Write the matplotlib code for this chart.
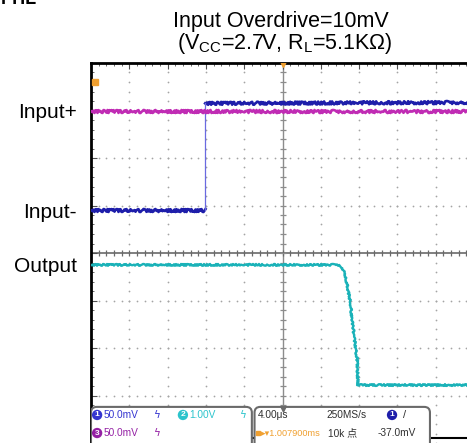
import numpy as np
import matplotlib.pyplot as plt
from matplotlib.patches import FancyBboxPatch

plt.rcParams['font.family'] = ['Liberation Sans', 'DejaVu Sans', 'Noto Sans CJK SC']
plt.rcParams['mathtext.fontset'] = 'custom'
plt.rcParams['mathtext.rm'] = 'Liberation Sans'

# scope traces in screen divisions (10 x 8 graticule)
in_minus_t = [0.0, 2.98, 2.98, 10.2]
in_minus_v = [4.90, 4.90, 7.15, 7.17]
in_plus_t = [0.0, 10.2]
in_plus_v = [7.00, 7.00]
out_t = [0.0, 6.45, 6.55, 6.63, 6.76, 6.84, 6.95, 6.97, 10.2]
out_v = [3.75, 3.75, 3.70, 3.58, 3.01, 2.44, 1.75, 1.22, 1.22]

trace_labels = ['Input+', 'Input-', 'Output']
label_levels = [in_plus_v[0], in_minus_v[0], out_v[0]]

# readout panel
ch_nums = ['1', '2', '3']
ch_scales = ['50.0mV', '1.00V', '50.0mV']
timebase = '4.00\u03bcs'
sample_rate = '250MS/s'
trig_pos = '\u25b8\u25be1.007900ms'
rec_len = '10k \u70b9'
trig_level = '-37.0mV'

blue = '#1e1eaa'
magenta = '#c02cb4'
cyan = '#1ab2b8'
orange = '#f0a030'
ch_colors = ['#3434d0', '#2cc4cc', '#9420a4']

fig = plt.figure(figsize=(4.67, 4.43), dpi=100)
ax = fig.add_axes([91 / 467, 0, 383 / 467, 380 / 443])
ax.set_xlim(0, 10)
ax.set_ylim(0, 8)

# graticule dots
gx, gy = [], []
for x in range(1, 10):
    if x != 5:
        ys = np.arange(0, 8.01, 0.2)
        gx += [x] * len(ys)
        gy += list(ys)
for y in range(1, 8):
    if y != 4:
        xs = np.arange(0, 10.01, 0.2)
        gx += list(xs)
        gy += [y] * len(xs)
ax.scatter(gx, gy, s=1.6, color='#a4a4a4', lw=0, zorder=1)

# centre cross with minor marks
ax.axvline(5, color='#8c8c8c', lw=1, zorder=1)
ax.axhline(4, color='#6a6a6a', lw=1.2, zorder=1)
mx = np.arange(0, 10.01, 0.2)
my = np.arange(0, 8.01, 0.2)
ax.plot(mx, [4] * len(mx), ls='none', marker='|', ms=5, mew=0.9, color='#6a6a6a', zorder=1)
ax.plot([5] * len(my), my, ls='none', marker='_', ms=5, mew=0.9, color='#8c8c8c', zorder=1)

ax.set_xticks(range(0, 11))
ax.set_yticks(range(0, 9))
ax.set_xticks(mx, minor=True)
ax.set_yticks(my, minor=True)
ax.tick_params(which='both', direction='in', top=True, bottom=False, right=False,
               labelbottom=False, labelleft=False, color='#505050')
ax.tick_params(which='major', length=4)
ax.tick_params(which='minor', length=2.5)
for s in ['left', 'top']:
    ax.spines[s].set_linewidth(2)
ax.spines['right'].set_visible(False)
ax.spines['bottom'].set_visible(False)
ax.axhline(0.1, color='black', lw=1.5, zorder=4)

# traces
l1, = ax.plot(in_minus_t[:2], in_minus_v[:2], color=blue, lw=1.9, zorder=3)
l2, = ax.plot(in_minus_t[2:], in_minus_v[2:], color=blue, lw=1.9, zorder=3)
ax.plot(in_minus_t[1:3], in_minus_v[1:3], color='#6a6ae0', lw=0.9, zorder=3)
l3, = ax.plot(in_plus_t, in_plus_v, color=magenta, lw=1.9, zorder=3)
l4, = ax.plot(out_t, out_v, color=cyan, lw=1.7, zorder=3)
for ln in [l1, l2, l3]:
    ln.set_sketch_params(1.5, 1.2, 2.0)
l4.set_sketch_params(0.9, 1.2, 2.0)

# markers
ax.plot([0.1], [7.6], marker='s', ms=4, color=orange, zorder=4, clip_on=False)
ax.plot([5], [7.97], marker='v', ms=4, color=orange, zorder=4)

for lab, lev in zip(trace_labels, label_levels):
    ax.annotate(lab, xy=(0, lev), xytext=(-14, 0), textcoords='offset pixels',
                ha='right', va='center_baseline', fontsize=15, annotation_clip=False)

# readout boxes
for x0, w in [(0.0, 4.2), (4.27, 4.58)]:
    ax.add_patch(FancyBboxPatch((x0, -0.6), w, 1.36,
                                boxstyle='round,pad=0,rounding_size=0.15',
                                mutation_aspect=0.8, fc='white', ec='#6a6a6a',
                                lw=1.5, zorder=5))
ax.plot([5], [0.72], marker='v', ms=3.5, color='#6a6a6a', zorder=6)

panel_font = ['Liberation Sans', 'Noto Sans CJK SC']
fs = 7.3
badge = dict(ha='center', va='center', fontsize=6, color='white', fontweight='bold', zorder=6)
row_y = [0.59, 0.59, 0.21]
badge_x = [0.16, 2.4, 0.16]
for num, sc, c, bx, by in zip(ch_nums, ch_scales, ch_colors, badge_x, row_y):
    ax.text(bx, by, num, bbox=dict(boxstyle='circle,pad=0.2', fc=c, ec='none'), **badge)
    ax.text(bx + 0.16, by, sc, color=c, fontsize=fs, va='center', family=panel_font, zorder=6)
    ax.text(bx + 1.46, by, '\u03df', color=c, fontsize=7.5, va='center',
            family=['DejaVu Sans'], zorder=6)

ax.text(4.36, 0.59, timebase, fontsize=fs, va='center', color='#303030', family=panel_font, zorder=6)
ax.text(6.16, 0.59, sample_rate, fontsize=fs, va='center', color='#303030', family=panel_font, zorder=6)
ax.text(7.86, 0.59, ch_nums[0], bbox=dict(boxstyle='circle,pad=0.2', fc=blue, ec='none'), **badge)
ax.text(8.14, 0.59, '/', fontsize=8, va='center', color='#303030', zorder=6)
ax.plot([4.36], [0.21], marker='s', ms=3.5, color=orange, zorder=6, clip_on=False)
ax.text(4.45, 0.21, trig_pos, fontsize=6.6, va='center', color=orange,
        family=['Liberation Sans', 'DejaVu Sans'], zorder=6)
ax.text(6.2, 0.21, rec_len, fontsize=fs, va='center', color='#303030', family=panel_font, zorder=6)
ax.text(7.49, 0.21, trig_level, fontsize=fs, va='center', color='#303030', family=panel_font, zorder=6)

# titles
fig.text(37 / 467, 1 - 4 / 443, 'PHL', ha='right', va='baseline', fontsize=13, fontweight='bold')
fig.text(281 / 467, 1 - 21 / 443, 'Input Overdrive=10mV', ha='center', va='center', fontsize=15.5)
fig.text(285 / 467, 1 - 44 / 443, '(V$_{\\mathrm{CC}}$=2.7V, R$_{\\mathrm{L}}$=5.1K\u03a9)',
         ha='center', va='center', fontsize=15.5)

fig.savefig('out.png', dpi=100)
